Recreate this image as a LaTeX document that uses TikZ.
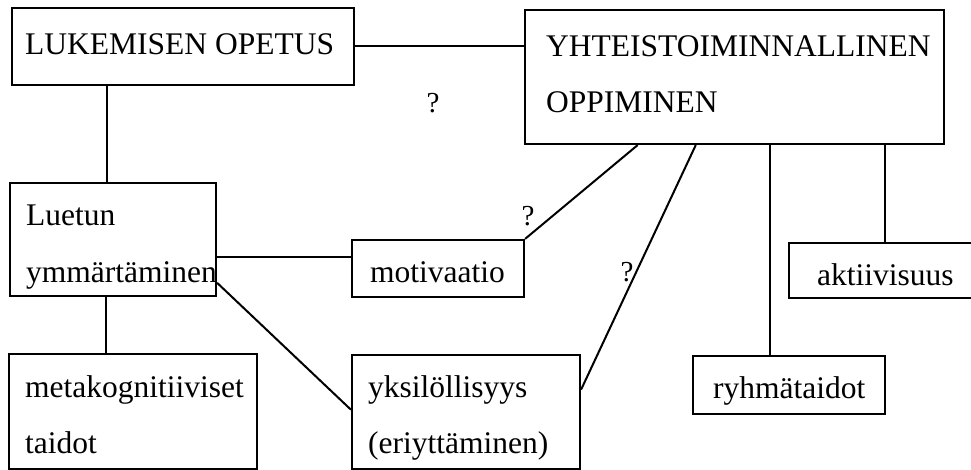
\documentclass[tikz,border=0pt]{standalone}
\usepackage{fontspec}
\setmainfont{Liberation Serif}
\usetikzlibrary{calc}
\begin{document}
\begin{tikzpicture}[x=1pt,y=-1pt,
  box/.style={draw=black, line width=2.2pt, inner sep=0pt, fill=none},
  txt/.style={inner sep=0pt, anchor=base west, font=\fontsize{31.5}{36}\selectfont},
  qm/.style={inner sep=0pt, font=\fontsize{29}{34}\selectfont},
  conn/.style={line width=2pt}]
\useasboundingbox (0,0) rectangle (971,470);
% boxes
\node[box, minimum width=342pt, minimum height=77pt] (lo) at (183,46.5) {};
\node[box, minimum width=419pt, minimum height=134pt] (yo) at (734.5,77) {};
\node[box, minimum width=206pt, minimum height=113pt] (lu) at (113,239.5) {};
\node[box, minimum width=172pt, minimum height=57pt] (mo) at (438,268.5) {};
\node[box, minimum width=248pt, minimum height=115pt] (me) at (133,411.5) {};
\node[box, minimum width=228pt, minimum height=114pt] (yk) at (466,412) {};
\node[box, minimum width=192pt, minimum height=58pt] (ry) at (789,385) {};
\node[box, minimum width=186pt, minimum height=55pt] (ak) at (882,270.5) {};
% texts
\node[txt] (tlo) at (25,55) {LUKEMISEN OPETUS};
\node[txt] (tyo1) at (546,57) {YHTEISTOIMINNALLINEN};
\node[txt] (tyo2) at (546,113) {OPPIMINEN};
\node[txt] (tlu1) at (26,226) {Luetun};
\node[txt] (tlu2) at (26,282) {ymmärtäminen};
\node[txt] (tmo) at (370,282) {motivaatio};
\node[txt] (tme1) at (25,397) {metakognitiiviset};
\node[txt] (tme2) at (25,453) {taidot};
\node[txt] (tyk1) at (368,397) {yksilöllisyys};
\node[txt] (tyk2) at (368,453) {(eriyttäminen)};
\node[txt] (try) at (713,398) {ryhmätaidot};
\node[txt] (tak) at (817,285) {aktiivisuus};
% question marks
\node[qm] (q1) at (433,103) {?};
\node[qm] (q2) at (528,216) {?};
\node[qm] (q3) at (627,272) {?};
% connector anchor points
\coordinate (c1) at ($(lu.north west)!0.47!(lu.north east)$);
\coordinate (c2) at ($(me.north west)!0.391!(me.north east)$);
\coordinate (c3) at ($(mo.north west)!0.30!(mo.south west)$);
\coordinate (c4a) at ($(lu.north east)!0.876!(lu.south east)$);
\coordinate (c4b) at ($(yk.north west)!0.48!(yk.south west)$);
\coordinate (c5) at ($(yo.south west)!0.27!(yo.south east)$);
\coordinate (c6a) at ($(yk.north east)!0.307!(yk.south east)$);
\coordinate (c6b) at ($(yo.south west)!0.408!(yo.south east)$);
\coordinate (c7) at ($(ry.north west)!0.403!(ry.north east)$);
\coordinate (c8) at ($(ak.north west)!0.516!(ak.north east)$);
% connectors
\draw[conn] (lo.east) -- (lo.east -| yo.west);
\draw[conn] (c1) -- (c1 |- lo.south);
\draw[conn] (c2) -- (c2 |- lu.south);
\draw[conn] (c3) -- (c3 -| lu.east);
\draw[conn] (c4a) -- (c4b);
\draw[conn] (mo.north east) -- (c5);
\draw[conn] (c6a) -- (c6b);
\draw[conn] (c7) -- (c7 |- yo.south);
\draw[conn] (c8) -- (c8 |- yo.south);
\end{tikzpicture}
\end{document}
